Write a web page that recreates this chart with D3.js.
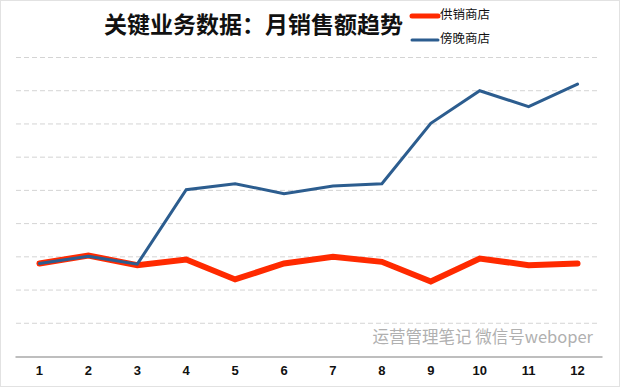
<!DOCTYPE html>
<html>
<head>
<meta charset="utf-8">
<script src="https://cdn.jsdelivr.net/npm/d3@7"></script>
<style>
  html, body { margin: 0; padding: 0; background: #fff; }
  svg { display: block; }
</style>
</head>
<body>
<div id="root"></div>
<script>
const months = ["1", "2", "3", "4", "5", "6", "7", "8", "9", "10", "11", "12"];
const supplyStore = [2.8, 3.04, 2.75, 2.92, 2.32, 2.8, 3.0, 2.85, 2.26, 2.95, 2.75, 2.8];
const evenStore = [2.8, 3.02, 2.78, 5.02, 5.2, 4.9, 5.13, 5.2, 7.02, 8.0, 7.52, 8.2];
const seriesNames = ["供销商店", "傍晚商店"];
const seriesColors = ["#ff2a00", "#2c5d8f"];
const gridValues = [1, 2, 3, 4, 5, 6, 7, 8, 9];

const width = 620;
const height = 387;

const svg = d3
  .select("#root")
  .append("svg")
  .attr("width", width)
  .attr("height", height)
  .attr("viewBox", [0, 0, width, height]);

// border
svg
  .append("rect")
  .attr("x", 0.5)
  .attr("y", 0.5)
  .attr("width", width - 1)
  .attr("height", height - 1)
  .attr("fill", "#fff")
  .attr("stroke", "#e2e2e2");

const x = d3.scaleBand().domain(months).range([15, 602]);
const y = d3.scaleLinear().domain([0, 9]).range([356.5, 57.5]);
const cx = (d) => x(d) + x.bandwidth() / 2;

// grid
svg
  .append("g")
  .selectAll("line")
  .data(gridValues)
  .join("line")
  .attr("x1", 16)
  .attr("x2", 599)
  .attr("y1", (d) => y(d))
  .attr("y2", (d) => y(d))
  .attr("stroke", "#d4d4d4")
  .attr("stroke-width", 1)
  .attr("stroke-dasharray", "5,3");

// watermark
svg
  .append("text")
  .text("运营管理笔记 微信号weboper")
  .attr("x", 593)
  .attr("y", 339)
  .attr("text-anchor", "end")
  .attr("dominant-baseline", "middle")
  .attr("font-family", "'Noto Sans CJK SC', 'Noto Sans', sans-serif")
  .attr("font-size", 16.5)
  .attr("fill", "#b0b0b0");

// x axis
const xAxis = svg
  .append("g")
  .attr("transform", `translate(0, ${y(0)})`)
  .call(d3.axisBottom(x).tickSize(0).tickPadding(9));
xAxis.select(".domain").attr("stroke", "#a8a8a8").attr("stroke-width", 1.5);
xAxis
  .selectAll("text")
  .attr("font-family", "'Liberation Sans Narrow', 'Liberation Sans', sans-serif")
  .attr("font-size", 13)
  .attr("font-weight", "bold")
  .attr("fill", "#111");

// lines
const line = d3
  .line()
  .x((d, i) => cx(months[i]))
  .y((d) => y(d));

svg
  .append("path")
  .datum(supplyStore)
  .attr("d", line)
  .attr("fill", "none")
  .attr("stroke", seriesColors[0])
  .attr("stroke-width", 6)
  .attr("stroke-linecap", "round")
  .attr("stroke-linejoin", "miter");

svg
  .append("path")
  .datum(evenStore)
  .attr("d", line)
  .attr("fill", "none")
  .attr("stroke", seriesColors[1])
  .attr("stroke-width", 3)
  .attr("stroke-linecap", "round")
  .attr("stroke-linejoin", "miter");

// title
svg
  .append("text")
  .text("关键业务数据：月销售额趋势")
  .attr("x", 104)
  .attr("y", 27)
  .attr("dominant-baseline", "middle")
  .attr("font-family", "'Noto Sans CJK SC', sans-serif")
  .attr("font-size", 23)
  .attr("font-weight", "bold")
  .attr("fill", "#111");

// legend
const legend = svg
  .append("g")
  .selectAll("g")
  .data(seriesNames)
  .join("g")
  .attr("transform", (d, i) => `translate(412, ${16 + i * 24})`);

legend
  .append("line")
  .attr("x1", 0)
  .attr("x2", 26)
  .attr("stroke", (d, i) => seriesColors[i])
  .attr("stroke-width", (d, i) => (i === 0 ? 5 : 3))
  .attr("stroke-linecap", "round");

legend
  .append("text")
  .text((d) => d)
  .attr("x", 28)
  .attr("dominant-baseline", "middle")
  .attr("font-family", "'Noto Sans CJK SC', sans-serif")
  .attr("font-size", 12.5)
  .attr("fill", "#111");
</script>
</body>
</html>
